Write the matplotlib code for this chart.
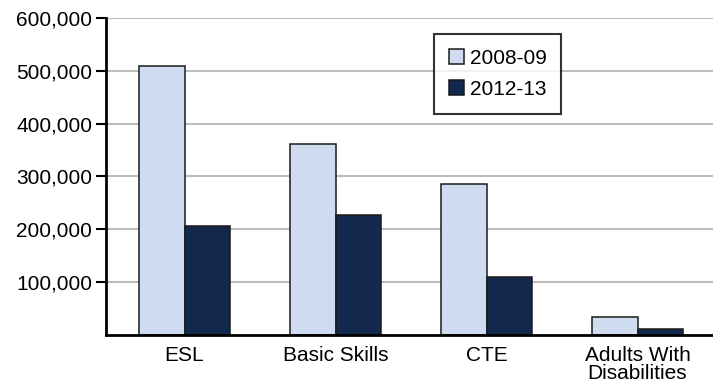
import matplotlib
matplotlib.use("Agg")
import matplotlib.pyplot as plt
import numpy as np

categories = ["ESL", "Basic Skills", "CTE", "Adults With\nDisabilities"]
years = ["2008-09", "2012-13"]
enroll_0809 = [509000, 362000, 286000, 33500]
enroll_1213 = [206000, 227000, 110000, 10500]
yticks = [100000, 200000, 300000, 400000, 500000, 600000]

colors = ["#CFDBF0", "#12294D"]

plt.rcParams["font.family"] = ["Liberation Sans", "DejaVu Sans"]
FS = 15

fig = plt.figure(figsize=(7.13, 3.9), dpi=100)
ax = fig.add_axes([0.1487, 0.141, 0.8513, 0.813])

x = np.arange(len(categories))
w = 0.3
ax.bar(x - w / 2, enroll_0809, w, color=colors[0], edgecolor="#1a1a1a",
       linewidth=1.1, label=years[0], zorder=3)
ax.bar(x + w / 2, enroll_1213, w, color=colors[1], edgecolor="#1a1a1a",
       linewidth=1.1, label=years[1], zorder=3)

ax.set_xlim(-0.52, 3.5)
ax.set_ylim(0, 600000)
ax.set_yticks(yticks)
ax.set_yticklabels([f"{v:,}" for v in yticks], fontsize=FS)
ax.set_xticks(x)
ax.set_xticklabels(categories, fontsize=FS, linespacing=0.95)
ax.tick_params(axis="x", length=0, pad=8)
ax.tick_params(axis="y", length=7, width=1.5, direction="out", pad=3)

ax.grid(axis="y", color="#bdbdbd", linewidth=1.5, zorder=0)
ax.set_axisbelow(True)
for s in ["top", "right"]:
    ax.spines[s].set_visible(False)
ax.spines["left"].set_linewidth(2)
ax.spines["bottom"].set_linewidth(2)
ax.spines["left"].set_zorder(4)
ax.spines["bottom"].set_zorder(4)

leg = fig.legend(loc="upper left", bbox_to_anchor=(0.6087, 0.9128),
                 fontsize=FS, frameon=True, fancybox=False,
                 edgecolor="black", handlelength=0.72, handleheight=0.72,
                 handletextpad=0.3, borderpad=0.7, labelspacing=0.6,
                 borderaxespad=0)
leg.get_frame().set_linewidth(1.5)

fig.savefig("out.png", dpi=100)
